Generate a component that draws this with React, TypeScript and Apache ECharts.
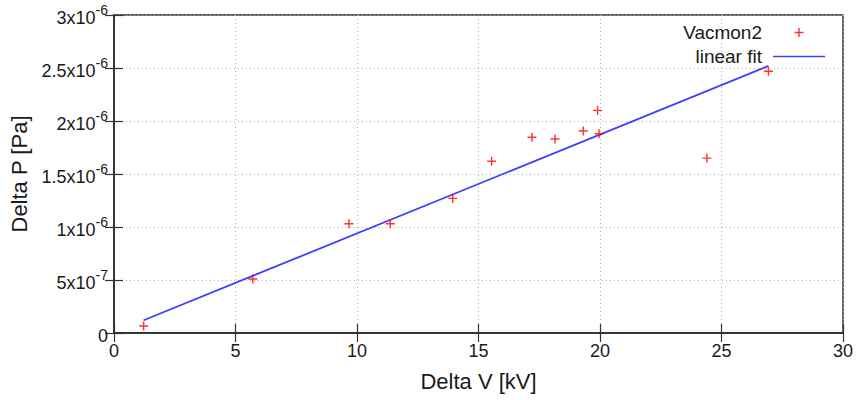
import React, { useEffect, useRef } from "react";
import * as echarts from "echarts";

// Measured data: Delta V [kV] vs Delta P [Pa]
const deltaV = [1.22, 5.71, 9.67, 11.37, 13.94, 15.54, 17.2, 18.15, 19.31, 19.9, 19.96, 24.4, 26.93];
const deltaP = [0.066e-6, 0.51e-6, 1.03e-6, 1.03e-6, 1.27e-6, 1.62e-6, 1.846e-6, 1.83e-6, 1.905e-6, 2.10e-6, 1.88e-6, 1.65e-6, 2.47e-6];

// Linear fit end points
const fitV = [1.22, 26.93];
const fitP = [0.12e-6, 2.52e-6];

// Y tick labels: mantissa and exponent
const yTickMant = ["0", "5x10", "1x10", "1.5x10", "2x10", "2.5x10", "3x10"];
const yTickExp = ["", "-7", "-6", "-6", "-6", "-6", "-6"];

const seriesNames = ["Vacmon2", "linear fit"];

const PLUS = "path://M4.2,0H5.8V10H4.2Z M0,4.2H10V5.8H0Z";
const LINE_ICON = "path://M0,0H52V1.7H0Z";
const FONT = "'Liberation Sans', Arial, sans-serif";
const TXT = "#1a1a1a";

export default function App() {
  const ref = useRef<HTMLDivElement>(null);
  useEffect(() => {
    const chart = echarts.init(ref.current!, null, { renderer: "svg" });
    const axisLine = { show: true, lineStyle: { color: "#333", width: 1.5 } };
    const tick = { show: true, inside: true, length: 9, lineStyle: { color: "#333", width: 1.2 } };
    chart.setOption({
      animation: false,
      textStyle: { fontFamily: FONT },
      grid: {
        left: 114,
        right: 17,
        top: 15,
        bottom: 67,
        show: true,
        borderColor: "#333",
        borderWidth: 1.5,
        outerBoundsMode: "none",
        containLabel: false,
      },
      legend: {
        orient: "vertical",
        right: 35,
        top: 23,
        padding: 0,
        align: "right",
        itemWidth: 52,
        itemHeight: 9,
        itemGap: 5,
        textStyle: { fontSize: 19, color: TXT, fontFamily: FONT, padding: [0, 6, 0, 0] },
        data: [
          { name: seriesNames[0], icon: PLUS },
          { name: seriesNames[1], icon: LINE_ICON },
        ],
      },
      xAxis: [
        {
          type: "value",
          min: 0,
          max: 30,
          interval: 5,
          name: "Delta V [kV]",
          nameLocation: "middle",
          nameGap: 37,
          nameTextStyle: { fontSize: 22, color: TXT, fontFamily: FONT },
          axisLine,
          axisTick: tick,
          axisLabel: { fontSize: 18, color: TXT, margin: 9, fontFamily: FONT },
          splitLine: { show: true, lineStyle: { color: "#b0b0b0", type: [1, 3], width: 1 } },
        },
        {
          type: "value",
          position: "top",
          min: 0,
          max: 30,
          interval: 5,
          axisLine,
          axisTick: tick,
          axisLabel: { show: false },
          splitLine: { show: false },
        },
      ],
      yAxis: [
        {
          type: "value",
          min: 0,
          max: 3e-6,
          interval: 0.5e-6,
          name: "Delta P [Pa]",
          nameLocation: "middle",
          nameGap: 83,
          nameRotate: 90,
          nameTextStyle: { fontSize: 22, color: TXT, fontFamily: FONT },
          axisLine,
          axisTick: tick,
          axisLabel: {
            margin: 6,
            color: TXT,
            formatter: (v: number, i: number) => {
              const m = yTickMant[i] ?? String(v);
              const e = yTickExp[i] ?? "";
              return e ? `{m|${m}}{e|${e}}` : `{m|${m}}`;
            },
            rich: {
              m: { fontSize: 18, color: TXT, fontFamily: FONT, lineHeight: 24, verticalAlign: "bottom" },
              e: { fontSize: 14, color: TXT, fontFamily: FONT, lineHeight: 14, verticalAlign: "top" },
            },
          },
          splitLine: { show: true, lineStyle: { color: "#b0b0b0", type: [1, 3], width: 1 } },
        },
        {
          type: "value",
          position: "right",
          min: 0,
          max: 3e-6,
          interval: 0.5e-6,
          axisLine,
          axisTick: tick,
          axisLabel: { show: false },
          splitLine: { show: false },
        },
      ],
      series: [
        {
          name: seriesNames[1],
          type: "line",
          data: fitV.map((v, i) => [v, fitP[i]]),
          symbol: "none",
          lineStyle: { color: "#3f3fff", width: 1.8 },
          itemStyle: { color: "#3f3fff" },
          z: 2,
        },
        {
          name: seriesNames[0],
          type: "scatter",
          data: deltaV.map((v, i) => [v, deltaP[i]]),
          symbol: PLUS,
          symbolSize: 9,
          itemStyle: { color: "#ff0000" },
          z: 3,
        },
      ],
    });
    return () => chart.dispose();
  }, []);
  return <div ref={ref} style={{ width: 860, height: 400, position: "absolute", left: 0, top: 0 }} />;
}
